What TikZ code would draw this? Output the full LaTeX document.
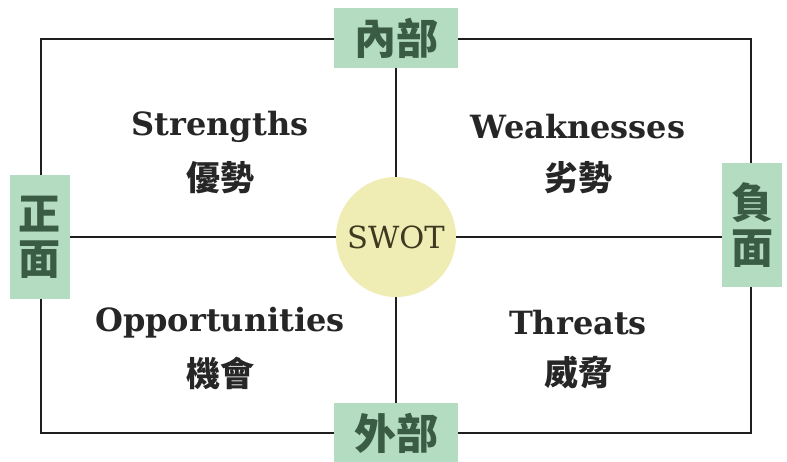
\documentclass[tikz,border=0pt]{standalone}
\usepackage{fontspec}
\setmainfont{DejaVu Serif}
\newfontfamily\cjk{Noto Sans CJK TC}
\usetikzlibrary{backgrounds}

\definecolor{boxgreen}{HTML}{B4DCC1}
\definecolor{textgreen}{HTML}{3A5C44}
\definecolor{swotyellow}{HTML}{F0EDB4}
\definecolor{swottext}{HTML}{3E3920}
\definecolor{linegray}{HTML}{1E1E1E}

\tikzset{
  hbox/.style={fill=boxgreen, text=textgreen, inner sep=0pt,
    minimum width=124pt, minimum height=60pt,
    font={\cjk\bfseries\fontsize{42}{46}\selectfont}},
  vbox/.style={fill=boxgreen, text=textgreen, inner sep=0pt, align=center,
    minimum width=60pt, minimum height=124pt,
    font={\cjk\bfseries\fontsize{42}{45}\selectfont}},
  title/.style={font={\bfseries\fontsize{32}{36}\selectfont}, text=black!85},
  cjktitle/.style={font={\cjk\bfseries\fontsize{34}{38}\selectfont}, text=black!85},
  frame/.style={draw=linegray, line width=2.4pt}
}

\begin{document}
\begin{tikzpicture}[x=1pt, y=-1pt]
  \useasboundingbox (0,0) rectangle (787,461);

  % labels round the frame
  \node[hbox] (inner) at (396,38) {內部};
  \node[hbox] (outer) at (396,433) {外部};
  \node[vbox] (pos) at (40,237) {正\\面};
  \node[vbox] (neg) at (752,225) {負\\面};

  % centre
  \node[circle, fill=swotyellow, minimum size=120pt, inner sep=0pt,
    text=swottext, font={\fontsize{30.5}{33}\selectfont}] (swot) at (396,237) {SWOT};

  % quadrants
  \node[title] (s) at (220,127) {Strengths};
  \node[cjktitle] (sc) at (220,178) {優勢};
  \node[title] (w) at (578,127) {Weaknesses};
  \node[cjktitle] (wc) at (578,178) {劣勢};
  \node[title] (o) at (220,323) {Opportunities};
  \node[cjktitle] (oc) at (220,373) {機會};
  \node[title] (t) at (578,323) {Threats};
  \node[cjktitle] (tc) at (578,373) {威脅};

  \coordinate (nw) at (41,39);
  \coordinate (se) at (751,433);

  \begin{scope}[on background layer]
    \fill[white] (0,0) rectangle (787,461);
    \draw[frame] (nw) rectangle (se);
    \draw[frame] (inner) -- (outer);
    \draw[frame] (pos) -- (pos -| neg.west);
  \end{scope}
\end{tikzpicture}
\end{document}
